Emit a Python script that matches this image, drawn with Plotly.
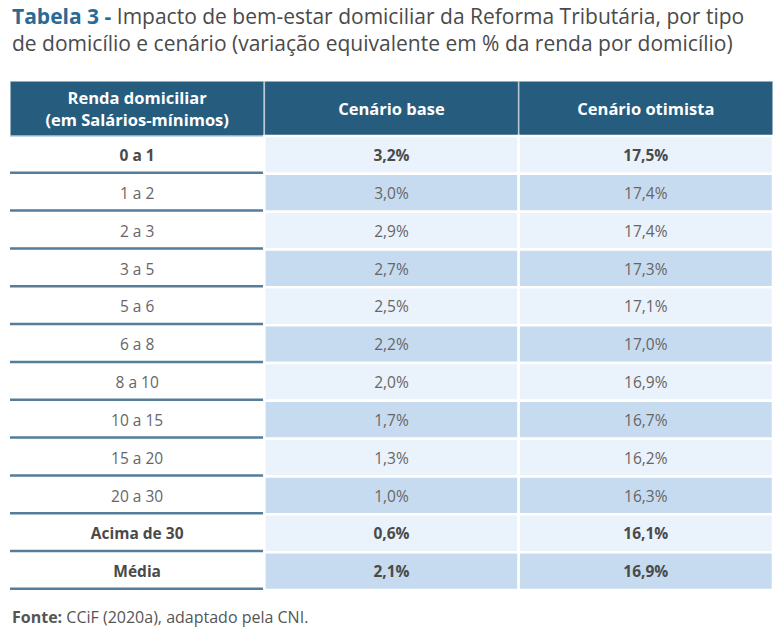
import plotly.graph_objects as go

categories = ["0 a 1", "1 a 2", "2 a 3", "3 a 5", "5 a 6", "6 a 8", "8 a 10",
              "10 a 15", "15 a 20", "20 a 30", "Acima de 30", "Média"]
cenario_base = [3.2, 3.0, 2.9, 2.7, 2.5, 2.2, 2.0, 1.7, 1.3, 1.0, 0.6, 2.1]
cenario_otimista = [17.5, 17.4, 17.4, 17.3, 17.1, 17.0, 16.9, 16.7, 16.2, 16.3, 16.1, 16.9]
headers = ["Renda domiciliar<br>(em Salários-mínimos)", "Cenário base", "Cenário otimista"]
bold_rows = ["0 a 1", "Acima de 30", "Média"]

FONT = "Open Sans"
HEADER_BG = "#265D7E"
LIGHT = "#EAF2FB"
MEDIUM = "#C6DBF0"
SEP = "#557C98"
HEADER_H = 1.455
PLOT_H = 636 - 81 - 46
TEXT_NUDGE = 0.06

def fmt(v):
    return f"{v:.1f}%".replace(".", ",")

columns = [categories, [fmt(v) for v in cenario_base], [fmt(v) for v in cenario_otimista]]
n = len(categories)

shapes = []
for c in range(3):
    shapes.append(dict(type="rect", xref="x", yref="y", x0=c, x1=c + 1, y0=-HEADER_H, y1=0,
                       fillcolor=HEADER_BG, line=dict(color="#B9C9D6", width=1.5), layer="below"))
for r in range(n):
    shapes.append(dict(type="line", xref="x", yref="y", x0=0, x1=0.995, y0=r + 1 - 0.03, y1=r + 1 - 0.03,
                       line=dict(color=SEP, width=2.5)))
    for c in (1, 2):
        shapes.append(dict(type="rect", xref="x", yref="y", x0=c, x1=c + 1, y0=r, y1=r + 1,
                           fillcolor=LIGHT if r % 2 == 0 else MEDIUM,
                           line=dict(color="white", width=2.5), layer="below"))

fig = go.Figure()

fig.add_trace(go.Scatter(
    x=[c + 0.5 for c in range(3)], y=[-HEADER_H / 2 + TEXT_NUDGE] * 3, mode="text",
    text=[f"<b>{h}</b>" for h in headers],
    textfont=dict(family=FONT, size=16.5, color="white"),
    hoverinfo="skip", showlegend=False))

for c, col in enumerate(columns):
    texts, colors = [], []
    for r, val in enumerate(col):
        if categories[r] in bold_rows:
            texts.append(f"<b>{val}</b>")
            colors.append("#4A4A4A")
        else:
            texts.append(val)
            colors.append("#666666")
    fig.add_trace(go.Scatter(
        x=[c + 0.5] * n, y=[r + 0.5 + TEXT_NUDGE for r in range(n)], mode="text",
        text=texts, textfont=dict(family=FONT, size=15.5, color=colors),
        hoverinfo="skip", showlegend=False))

title_text = ("<b><span style='color:#2A6A96'>Tabela 3 -</span></b> Impacto de bem-estar domiciliar da Reforma Tributária, por tipo"
              "<br>de domicílio e cenário (variação equivalente em % da renda por domicílio)")

fig.update_layout(
    width=774, height=636,
    margin=dict(l=10, r=1, t=81, b=46),
    paper_bgcolor="white", plot_bgcolor="white",
    xaxis=dict(range=[0, 3], visible=False, fixedrange=True),
    yaxis=dict(range=[n, -HEADER_H], visible=False, fixedrange=True),
    shapes=shapes,
    annotations=[
        dict(text=title_text, xref="paper", yref="paper", x=0, y=1 + (81 - 0) / PLOT_H,
             xanchor="left", yanchor="top", align="left", showarrow=False,
             font=dict(family=FONT, size=21, color="#4A4A4A")),
        dict(text="<b>Fonte:</b> CCiF (2020a), adaptado pela CNI.",
             xref="paper", yref="paper", x=0, y=-27 / PLOT_H, xanchor="left", yanchor="middle",
             showarrow=False, font=dict(family=FONT, size=16, color="#555555")),
    ],
)

fig.write_html("out.html", config={"displayModeBar": False},
               post_script="document.body.style.margin='0';")
